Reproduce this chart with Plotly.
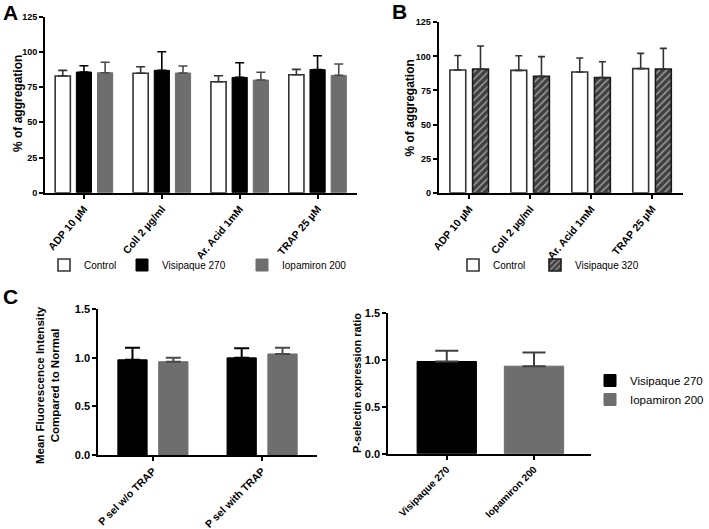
import plotly.graph_objects as go

# ---------------- data ----------------
agonists = ["ADP 10 µM", "Coll 2 µg/ml", "Ar. Acid 1mM", "TRAP 25 µM"]
psel_conditions = ["P sel w/o TRAP", "P sel with TRAP"]
contrast_agents = ["Visipaque 270", "Iopamiron 200"]

a_control = [82.9, 84.8, 78.8, 83.8]
a_control_sd = [4.0, 4.7, 4.3, 3.8]
a_visi270 = [85.7, 86.9, 81.9, 87.4]
a_visi270_sd = [4.5, 13.2, 10.4, 9.9]
a_iopa200 = [85.2, 85.0, 80.0, 83.3]
a_iopa200_sd = [7.4, 5.0, 5.5, 8.1]

b_control = [90.0, 89.7, 88.5, 91.0]
b_control_sd = [10.7, 10.8, 10.3, 11.2]
b_visi320 = [90.7, 85.3, 84.4, 90.7]
b_visi320_sd = [16.9, 14.5, 11.7, 15.2]

c_visi270 = [0.98, 1.00]
c_visi270_sd = [0.125, 0.10]
c_iopa200 = [0.96, 1.04]
c_iopa200_sd = [0.04, 0.065]

c_ratio = [0.985, 0.935]
c_ratio_sd = [0.115, 0.145]

agg_ticks = [0, 25, 50, 75, 100, 125]
mfi_ticks = [0, 0.5, 1.0, 1.5]

# ---------------- styles ----------------
FONT = "Liberation Sans, Arial, Helvetica, sans-serif"
W, H = 709, 529
BLACK = "#000000"
GREY = "#6e6e6e"
OUTLINE = "#333333"


def upper_err(sd, color, cap, thick=1.6):
    return dict(type="data", symmetric=False, array=sd, arrayminus=[0] * len(sd),
                color=color, thickness=thick, width=cap)


fig = go.Figure()

# Panel A
wa = 0.195
fig.add_trace(go.Bar(x=agonists, y=a_control, name="Control", legend="legend",
                     marker=dict(color="white", line=dict(color=OUTLINE, width=1.6)),
                     width=wa, offset=-0.272 - wa / 2,
                     error_y=upper_err(a_control_sd, OUTLINE, 4.5),
                     xaxis="x", yaxis="y"))
fig.add_trace(go.Bar(x=agonists, y=a_visi270, name="Visipaque 270", legend="legend2",
                     marker=dict(color=BLACK, line=dict(color=BLACK, width=1)),
                     width=wa, offset=-wa / 2,
                     error_y=upper_err(a_visi270_sd, BLACK, 4.5),
                     xaxis="x", yaxis="y"))
fig.add_trace(go.Bar(x=agonists, y=a_iopa200, name="Iopamiron 200", legend="legend3",
                     marker=dict(color=GREY, line=dict(color=GREY, width=1)),
                     width=wa, offset=0.272 - wa / 2,
                     error_y=upper_err(a_iopa200_sd, "#4a4a4a", 4.5),
                     xaxis="x", yaxis="y"))

# Panel B
wb = 0.26
fig.add_trace(go.Bar(x=agonists, y=b_control, name="Control", legend="legend4",
                     marker=dict(color="white", line=dict(color=OUTLINE, width=1.6)),
                     width=wb, offset=-0.186 - wb / 2,
                     error_y=upper_err(b_control_sd, OUTLINE, 3.5),
                     xaxis="x2", yaxis="y2"))
fig.add_trace(go.Bar(x=agonists, y=b_visi320, name="Visipaque 320", legend="legend5",
                     marker=dict(color="#444444", line=dict(color="#1a1a1a", width=1.6),
                                 pattern=dict(shape="/", bgcolor="#404040", fgcolor="#9a9a9a",
                                              size=5, solidity=0.3, fillmode="replace")),
                     width=wb, offset=0.186 - wb / 2,
                     error_y=upper_err(b_visi320_sd, OUTLINE, 3.5),
                     xaxis="x2", yaxis="y2"))

# Panel C left
wc = 0.268
fig.add_trace(go.Bar(x=psel_conditions, y=c_visi270, name="Visipaque 270", legend="legend6",
                     marker=dict(color=BLACK, line=dict(color=BLACK, width=1)),
                     width=wc, offset=-0.187 - wc / 2,
                     error_y=upper_err(c_visi270_sd, BLACK, 7.5, 2),
                     xaxis="x3", yaxis="y3"))
fig.add_trace(go.Bar(x=psel_conditions, y=c_iopa200, name="Iopamiron 200", legend="legend6",
                     marker=dict(color=GREY, line=dict(color=GREY, width=1)),
                     width=wc, offset=0.187 - wc / 2,
                     error_y=upper_err(c_iopa200_sd, "#4a4a4a", 7.5, 2),
                     xaxis="x3", yaxis="y3"))

# Panel C right
fig.add_trace(go.Bar(x=contrast_agents, y=c_ratio, showlegend=False,
                     marker=dict(color=[BLACK, GREY], line=dict(color=[BLACK, GREY], width=1)),
                     width=0.68,
                     error_y=upper_err(c_ratio_sd, "#404040", 11.5, 2),
                     xaxis="x4", yaxis="y4"))


def px_x(a, b):
    return [a / W, b / W]


def px_y(top, bottom):
    return [1 - bottom / H, 1 - top / H]


xcommon = dict(showline=True, linecolor="black", linewidth=2, ticks="outside",
               ticklen=4, tickwidth=1.5, tickcolor="black",
               showgrid=False, zeroline=False, fixedrange=True, automargin=False)
ycommon = dict(showline=True, linecolor="black", linewidth=2, ticks="outside",
               ticklen=4, tickwidth=1.5, tickcolor="black",
               showgrid=False, zeroline=False, fixedrange=True, automargin=False)


def hleg(xpx, ypx, size=10):
    return dict(orientation="h", x=xpx / W, y=1 - ypx / H, xanchor="left", yanchor="middle",
                font=dict(size=size), bgcolor="rgba(0,0,0,0)")


fig.update_layout(
    template="none",
    width=W, height=H, margin=dict(l=0, r=0, t=0, b=0, autoexpand=False),
    paper_bgcolor="white", plot_bgcolor="white",
    barmode="overlay",
    font=dict(family=FONT, color="black"),
    xaxis=dict(domain=px_x(45, 356.5), anchor="y", range=[-0.5, 3.5], tickangle=-50,
               tickfont=dict(size=10.5, weight="bold"), **xcommon),
    yaxis=dict(domain=px_y(16.7, 192.7), anchor="x", range=[0, 125], tickvals=agg_ticks,
               tickfont=dict(size=9, weight="bold"), **ycommon),
    xaxis2=dict(domain=px_x(438.7, 682.5), anchor="y2", range=[-0.5, 3.5], tickangle=-50,
                tickfont=dict(size=10.5, weight="bold"), **xcommon),
    yaxis2=dict(domain=px_y(22.3, 192.7), anchor="x2", range=[0, 125], tickvals=agg_ticks,
                tickfont=dict(size=9, weight="bold"), **ycommon),
    xaxis3=dict(domain=px_x(98.3, 316.7), anchor="y3", range=[-0.5, 1.5], tickangle=-45,
                tickfont=dict(size=10.5, weight="bold"), **xcommon),
    yaxis3=dict(domain=px_y(309.3, 455), anchor="x3", range=[0, 1.5], tickvals=mfi_ticks,
                tickformat=".1f", tickfont=dict(size=11, weight="bold"), **ycommon),
    xaxis4=dict(domain=px_x(388.3, 590.7), anchor="y4", range=[-0.67, 1.65], tickangle=-45,
                tickfont=dict(size=10, weight="bold"), **xcommon),
    yaxis4=dict(domain=px_y(313.3, 453.7), anchor="x4", range=[0, 1.5], tickvals=mfi_ticks,
                tickformat=".1f", tickfont=dict(size=11, weight="bold"), **ycommon),
    legend=hleg(44, 265),
    legend2=hleg(122, 265),
    legend3=hleg(242, 265),
    legend4=hleg(453, 265),
    legend5=hleg(535, 265),
    legend6=dict(orientation="v", x=1, y=1 - 390 / H, xanchor="right", yanchor="middle",
                 font=dict(size=11.5), bgcolor="rgba(0,0,0,0)"),
)

annotations = [
    dict(text="<b>A</b>", x=10 / W, y=1 - 12.5 / H, font=dict(size=21)),
    dict(text="<b>B</b>", x=399 / W, y=1 - 12 / H, font=dict(size=21)),
    dict(text="<b>C</b>", x=10 / W, y=1 - 296 / H, font=dict(size=21)),
    dict(text="<b>% of aggregation</b>", x=18 / W, y=1 - 104 / H, textangle=-90, font=dict(size=12)),
    dict(text="<b>% of aggregation</b>", x=410 / W, y=1 - 108.5 / H, textangle=-90, font=dict(size=12)),
    dict(text="<b>Mean Fluorescence Intensity<br>Compared to Normal</b>", x=47 / W, y=1 - 385 / H,
         textangle=-90, font=dict(size=11.5)),
    dict(text="<b>P-selectin expression ratio</b>", x=357 / W, y=1 - 383 / H, textangle=-90,
         font=dict(size=11)),
]
for a in annotations:
    a.update(xref="paper", yref="paper", showarrow=False, xanchor="center", yanchor="middle")
fig.update_layout(annotations=annotations)

fig.write_html("out.html", config={"displayModeBar": False},
               post_script="document.body.style.margin='0px';document.body.style.overflow='hidden';")
